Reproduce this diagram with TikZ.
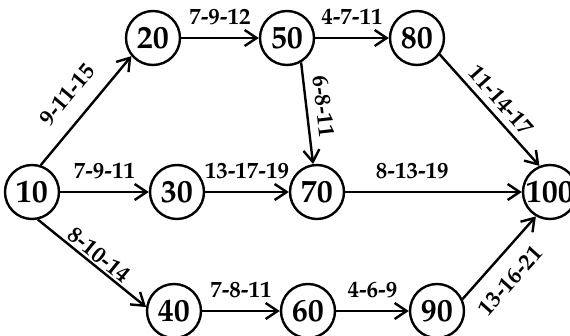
\documentclass[tikz,border=0pt]{standalone}
\usepackage[T1]{fontenc}
\usepackage{mathpazo}
\usetikzlibrary{arrows.meta}

\tikzset{
  event/.style={circle, draw, line width=1.2pt, minimum size=27pt, inner sep=0pt,
    font=\fontsize{16}{18}\selectfont\bfseries},
  act/.style={line width=1.2pt, -{Straight Barb[length=6pt,width=8pt]}},
  lab/.style={inner sep=1pt, font=\fontsize{11.5}{14}\selectfont\bfseries},
  labopt/.style={#1}
}

\begin{document}
\begin{tikzpicture}[x=0.5pt,y=-0.5pt]
\useasboundingbox (0,0) rectangle (570,336);
% Nodes
\foreach \i/\j/\k in {10/32/192, 20/153/38, 50/287/38, 80/417/38, 30/177/192,
                      70/317/192, 100/550/192, 40/174/311, 60/308/311, 90/437/311} {
  \node[event] (\i) at (\j,\k) {\i};
}
% Edges
\foreach \source/\target/\dur/\opt in {10.72/20.220/9-11-15/{sloped,above=7pt},
    20/50/7-9-12/{above=5pt}, 50/80/4-7-11/{above=5pt},
    80.324/100.112/11-14-17/{sloped,above=2pt},
    50.300/70.98/6-8-11/{sloped,above=3pt,pos=0.45},
    10/30/7-9-11/{above=5pt}, 30/70/13-17-19/{above=5pt},
    70/100/8-13-19/{above=5pt,pos=0.38},
    10.282/40.172/8-10-14/{sloped,above=0pt},
    40/60/7-8-11/{above=5pt}, 60/90/4-6-9/{above=5pt},
    90.25/100.240/13-16-21/{sloped,below=6pt,pos=0.41}} {
  \draw[act] (\source) -- node[lab, labopt/.expanded=\opt] {\dur} (\target);
}
\end{tikzpicture}
\end{document}
